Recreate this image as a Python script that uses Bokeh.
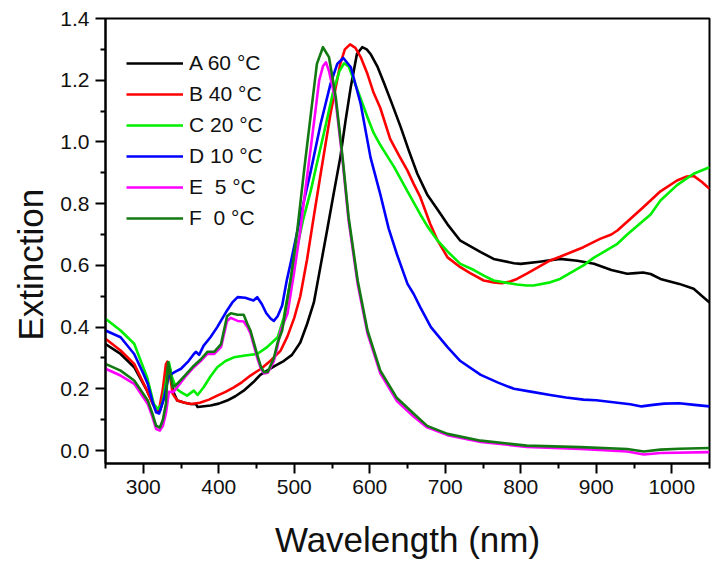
from bokeh.plotting import figure
from bokeh.models import Range1d, FixedTicker, PrintfTickFormatter, Legend, LegendItem, Title
from bokeh.embed import file_html
from bokeh.resources import INLINE

# ---- data ----
labels = ["A 60 \u00b0C", "B 40 \u00b0C", "C 20 \u00b0C", "D 10 \u00b0C", "E  5 \u00b0C", "F  0 \u00b0C"]
colors = ["#000000", "#ff0000", "#00ee00", "#0000ff", "#ff00ff", "#137a13"]

wl_a = [250,270,288,305,313,318,322,327,332,335,340,345,355,363,370,372,389,400,411,422,433,446,455,464,475,486,497,508,517,526,535,544,552,561,568,575,583,590,596,601,610,619,630,641,652,663,676,690,703,720,747,764,791,800,825,852,875,897,920,941,952,962,972,985,1010,1029,1050]
ext_a = [0.345,0.313,0.27,0.194,0.15,0.13,0.128,0.17,0.286,0.27,0.19,0.162,0.155,0.151,0.15,0.141,0.146,0.152,0.162,0.176,0.194,0.222,0.245,0.259,0.275,0.29,0.31,0.35,0.41,0.48,0.60,0.72,0.83,0.95,1.07,1.18,1.285,1.307,1.30,1.285,1.245,1.19,1.12,1.048,0.97,0.897,0.83,0.78,0.733,0.68,0.643,0.621,0.607,0.605,0.612,0.621,0.615,0.605,0.585,0.573,0.575,0.577,0.572,0.556,0.54,0.524,0.48]

wl_b = [250,270,288,305,312,317,321,326,330,332,335,339,345,355,363,375,387,398,409,420,431,442,456,469,482,491,500,508,517,526,535,548,556,561,567,574,581,588,597,605,614,627,639,650,658,667,680,690,703,720,733,751,764,775,786,795,808,839,852,883,905,920,928,945,963,985,1007,1020,1029,1040,1050]
ext_b = [0.362,0.324,0.281,0.194,0.155,0.13,0.133,0.2,0.28,0.288,0.25,0.184,0.162,0.155,0.151,0.155,0.165,0.178,0.19,0.205,0.222,0.243,0.265,0.292,0.324,0.37,0.43,0.50,0.62,0.76,0.897,1.091,1.19,1.253,1.30,1.316,1.305,1.275,1.22,1.16,1.11,1.01,0.955,0.907,0.865,0.821,0.735,0.68,0.626,0.594,0.575,0.551,0.545,0.542,0.548,0.556,0.573,0.616,0.628,0.659,0.686,0.70,0.713,0.75,0.79,0.84,0.875,0.888,0.89,0.87,0.848]

wl_c = [250,270,288,305,314,319,325,330,334,338,344,350,358,367,372,380,389,398,409,420,435,451,464,478,486,495,504,512,522,530,539,552,560,566,572,579,588,597,605,614,623,632,650,667,676,690,703,720,738,751,764,795,808,817,839,852,883,897,928,941,972,985,1007,1029,1050]
ext_c = [0.427,0.389,0.346,0.238,0.151,0.135,0.151,0.22,0.286,0.238,0.2,0.189,0.178,0.194,0.18,0.205,0.24,0.27,0.29,0.302,0.308,0.313,0.335,0.367,0.43,0.55,0.66,0.75,0.843,0.93,1.026,1.167,1.23,1.255,1.245,1.20,1.14,1.08,1.03,0.99,0.955,0.92,0.84,0.765,0.728,0.68,0.645,0.605,0.585,0.567,0.551,0.538,0.535,0.535,0.545,0.556,0.60,0.625,0.67,0.70,0.765,0.81,0.86,0.897,0.918]

wl_d = [250,270,288,300,306,312,317,321,325,328,334,342,350,360,367,370,374,380,389,398,411,418,425,435,446,451,457,463,469,473,478,484,490,495,508,522,535,548,557,565,575,588,601,614,625,636,650,658,667,681,703,720,747,770,791,815,839,860,883,900,928,945,960,975,990,1010,1030,1050]
ext_d = [0.389,0.367,0.313,0.25,0.216,0.16,0.124,0.12,0.15,0.175,0.243,0.255,0.265,0.29,0.313,0.32,0.31,0.34,0.367,0.40,0.454,0.48,0.497,0.495,0.486,0.497,0.475,0.445,0.427,0.42,0.435,0.47,0.55,0.605,0.756,0.907,1.059,1.188,1.253,1.272,1.242,1.123,0.95,0.83,0.72,0.636,0.54,0.508,0.464,0.40,0.335,0.29,0.245,0.22,0.20,0.19,0.18,0.172,0.165,0.163,0.155,0.15,0.143,0.148,0.152,0.153,0.148,0.143]

wl_e = [250,270,288,306,312,317,322,326,330,334,340,345,356,367,376,385,394,403,411,416,425,433,438,442,451,456,460,465,473,478,482,491,500,508,515,522,528,533,538,542,546,555,564,572,584,597,614,636,658,676,703,747,808,879,941,963,985,1050]
ext_e = [0.265,0.243,0.216,0.151,0.11,0.07,0.065,0.08,0.12,0.19,0.19,0.205,0.24,0.27,0.29,0.313,0.313,0.335,0.42,0.43,0.42,0.418,0.40,0.38,0.30,0.265,0.25,0.252,0.29,0.34,0.39,0.443,0.58,0.713,0.85,0.983,1.10,1.199,1.245,1.258,1.23,1.13,0.94,0.745,0.54,0.38,0.25,0.16,0.11,0.075,0.05,0.028,0.012,0.005,-0.003,-0.013,-0.008,-0.005]

wl_f = [250,270,288,306,312,317,322,326,330,333,336,339,345,356,367,376,385,394,403,411,416,425,433,438,442,451,456,460,465,473,478,484,495,504,513,522,530,538,546,555,564,572,584,597,614,636,658,676,703,747,808,879,941,963,985,1010,1050]
ext_f = [0.281,0.259,0.227,0.162,0.12,0.081,0.074,0.1,0.151,0.286,0.25,0.205,0.216,0.245,0.275,0.295,0.32,0.32,0.345,0.435,0.445,0.44,0.44,0.41,0.389,0.31,0.27,0.254,0.255,0.30,0.35,0.389,0.551,0.713,0.907,1.091,1.253,1.307,1.275,1.145,0.95,0.756,0.551,0.389,0.259,0.17,0.12,0.08,0.054,0.032,0.016,0.011,0.005,-0.003,0.003,0.006,0.008]

x_ticks = [300, 400, 500, 600, 700, 800, 900, 1000]
x_minor = [250, 350, 450, 550, 650, 750, 850, 950, 1050]
y_ticks = [0.0, 0.2, 0.4, 0.6, 0.8, 1.0, 1.2, 1.4]
y_minor = [0.1, 0.3, 0.5, 0.7, 0.9, 1.1, 1.3]

FONT = "Liberation Sans"

p = figure(width=713, height=562, output_backend="svg", toolbar_location=None,
           x_range=Range1d(250, 1050), y_range=Range1d(-0.042, 1.4),
           min_border_left=105, min_border_right=4, min_border_top=18, min_border_bottom=99,
           x_axis_label="Wavelength (nm)")
p.background_fill_color = "white"
p.border_fill_color = "white"
p.outline_line_color = "black"
p.outline_line_width = 2
p.xgrid.visible = False
p.ygrid.visible = False

p.xaxis.ticker = FixedTicker(ticks=x_ticks, minor_ticks=x_minor)
p.yaxis.ticker = FixedTicker(ticks=y_ticks, minor_ticks=y_minor)
p.yaxis.formatter = PrintfTickFormatter(format="%.1f")

for ax in (p.xaxis[0], p.yaxis[0]):
    ax.axis_line_width = 2
    ax.major_tick_line_width = 2
    ax.minor_tick_line_width = 2
    ax.major_tick_out = 10
    ax.major_tick_in = 0
    ax.minor_tick_out = 5
    ax.minor_tick_in = 0
    ax.major_label_text_font = FONT
    ax.major_label_text_font_size = "21px"
    ax.major_label_text_color = "#111111"
    ax.axis_label_text_font = FONT
    ax.axis_label_text_font_size = "35px"
    ax.axis_label_text_font_style = "normal"
    ax.axis_label_text_color = "#111111"
p.xaxis.major_label_standoff = 6
p.yaxis.major_label_standoff = 6
p.xaxis.axis_label_standoff = 23

# y-axis title, set a little below the centre as in the original
ytitle = Title(text="Extinction", align="left", offset=123, standoff=16,
               text_font=FONT, text_font_size="35px", text_font_style="normal",
               text_color="#111111")
p.add_layout(ytitle, "left")

series = [(wl_a, ext_a), (wl_b, ext_b), (wl_c, ext_c), (wl_d, ext_d), (wl_e, ext_e), (wl_f, ext_f)]
items = []
for (xs, ys), lab, col in zip(series, labels, colors):
    r = p.line(xs, ys, line_color=col, line_width=2.6, line_join="round")
    items.append(LegendItem(label=lab, renderers=[r]))

legend = Legend(items=items, location=(21, 233))
legend.background_fill_alpha = 0
legend.border_line_alpha = 0
legend.glyph_width = 57
legend.glyph_height = 24
legend.label_height = 24
legend.spacing = 7
legend.padding = 0
legend.margin = 0
legend.label_standoff = 6
legend.label_text_font = FONT
legend.label_text_font_size = "21px"
legend.label_text_color = "#111111"
p.add_layout(legend)

open("out.html", "w").write(file_html(p, INLINE))
